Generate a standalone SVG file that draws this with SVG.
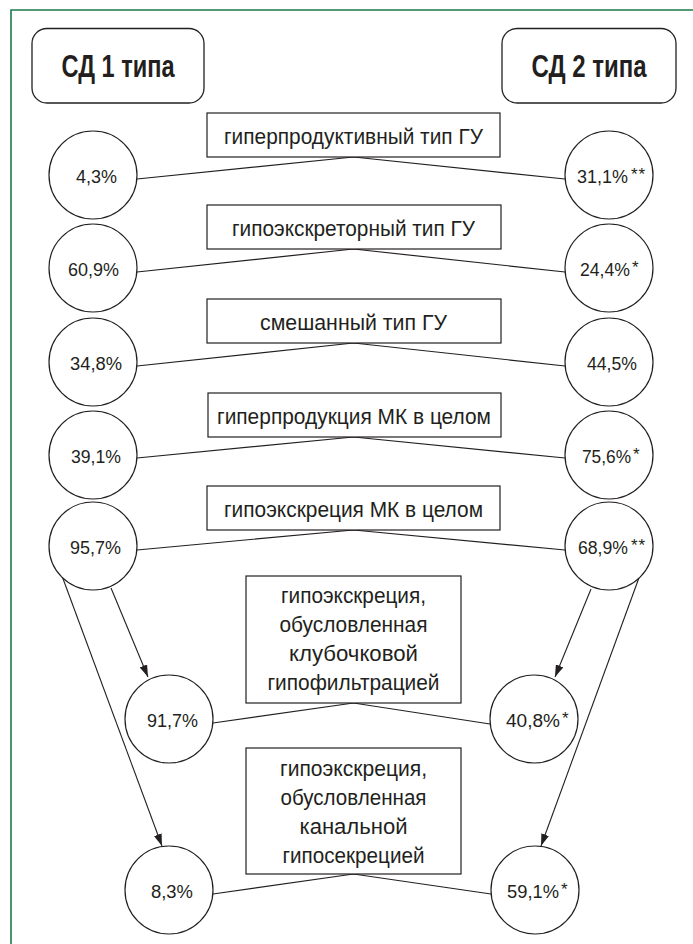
<svg xmlns="http://www.w3.org/2000/svg" width="693" height="944" viewBox="0 0 693 944">
<defs>
<style>
.bg{fill:#ffffff}
.frame{fill:none;stroke:#1d7a4a;stroke-width:1.6}
.hdr{fill:#ffffff;stroke:#231f20;stroke-width:1.3}
.box{fill:#ffffff;stroke:#231f20;stroke-width:1.2}
.circ{fill:#ffffff;stroke:#231f20;stroke-width:1.2}
.ln{fill:none;stroke:#231f20;stroke-width:1.2}
.arr{fill:none;stroke:#231f20;stroke-width:1.1;marker-end:url(#ah)}
.ht{font-family:"Liberation Sans Narrow","Liberation Sans",Arial,sans-serif;font-weight:bold;font-size:31px;fill:#231f20;text-anchor:middle}
.bt{font-family:"Liberation Sans Narrow","Liberation Sans",Arial,sans-serif;font-size:22px;fill:#231f20;text-anchor:middle}
.pt{font-family:"Liberation Sans Narrow","Liberation Sans",Arial,sans-serif;font-size:18px;fill:#231f20}
.st{font-family:"Liberation Sans",Arial,sans-serif;font-size:17px;fill:#231f20}
</style>
<marker id="ah" viewBox="0 0 12 8" refX="12" refY="4" markerWidth="12" markerHeight="8" markerUnits="userSpaceOnUse" orient="auto">
<path d="M0,0 L12,4 L0,8 Z" fill="#231f20"/>
</marker>
</defs>
<rect class="bg" x="0" y="0" width="693" height="944"/>
<path class="frame" d="M11,950 L11,10 L700,10"/>

<g id="connectors">
<polyline class="ln" points="137,179 353.5,157 565,179"/>
<polyline class="ln" points="137,272 353.5,249 565,272"/>
<polyline class="ln" points="137,366 353.5,343 565,366"/>
<polyline class="ln" points="137,458 353.5,437 565,458"/>
<polyline class="ln" points="137,550 353.5,530 565,550"/>
<polyline class="ln" points="213,723 353.5,703 490,724"/>
<polyline class="ln" points="213,894 353.5,874 491,894"/>
<line class="arr" x1="111" y1="588" x2="148" y2="677"/>
<line class="arr" x1="62" y1="576" x2="162" y2="846"/>
<line class="arr" x1="591" y1="589" x2="555" y2="677"/>
<line class="arr" x1="640" y1="575" x2="541" y2="846"/>
</g>

<g id="header-sd1">
<rect class="hdr" x="32" y="28.5" width="172" height="74.5" rx="15" ry="15"/>
<text class="ht" x="118" y="77" textLength="113" lengthAdjust="spacingAndGlyphs">СД 1 типа</text>
</g>
<g id="header-sd2">
<rect class="hdr" x="502" y="28.5" width="174" height="74.5" rx="15" ry="15"/>
<text class="ht" x="589" y="77" textLength="115" lengthAdjust="spacingAndGlyphs">СД 2 типа</text>
</g>

<g id="box-1">
<rect class="box" x="207" y="113" width="293" height="44"/>
<text class="bt" x="353.5" y="143.5" textLength="259" lengthAdjust="spacingAndGlyphs">гиперпродуктивный тип ГУ</text>
</g>
<g id="box-2">
<rect class="box" x="207" y="205" width="294" height="44"/>
<text class="bt" x="353.5" y="235.5" textLength="243" lengthAdjust="spacingAndGlyphs">гипоэкскреторный тип ГУ</text>
</g>
<g id="box-3">
<rect class="box" x="207" y="299" width="294" height="44"/>
<text class="bt" x="353.5" y="329.5" textLength="187" lengthAdjust="spacingAndGlyphs">смешанный тип ГУ</text>
</g>
<g id="box-4">
<rect class="box" x="208" y="393" width="293" height="44"/>
<text class="bt" x="354" y="423.5" textLength="274" lengthAdjust="spacingAndGlyphs">гиперпродукция МК в целом</text>
</g>
<g id="box-5">
<rect class="box" x="207" y="486" width="293" height="44"/>
<text class="bt" x="353.5" y="516.5" textLength="259" lengthAdjust="spacingAndGlyphs">гипоэкскреция МК в целом</text>
</g>
<g id="box-6">
<rect class="box" x="246" y="576" width="215" height="127"/>
<text class="bt" x="353.5" y="603" textLength="145" lengthAdjust="spacingAndGlyphs">гипоэкскреция,</text>
<text class="bt" x="353.5" y="632" textLength="148" lengthAdjust="spacingAndGlyphs">обусловленная</text>
<text class="bt" x="353.5" y="661" textLength="129" lengthAdjust="spacingAndGlyphs">клубочковой</text>
<text class="bt" x="353.5" y="690" textLength="172" lengthAdjust="spacingAndGlyphs">гипофильтрацией</text>
</g>
<g id="box-7">
<rect class="box" x="246" y="748" width="215" height="126"/>
<text class="bt" x="353.5" y="776" textLength="147" lengthAdjust="spacingAndGlyphs">гипоэкскреция,</text>
<text class="bt" x="353.5" y="805" textLength="146" lengthAdjust="spacingAndGlyphs">обусловленная</text>
<text class="bt" x="353.5" y="834" textLength="108" lengthAdjust="spacingAndGlyphs">канальной</text>
<text class="bt" x="353.5" y="863" textLength="142" lengthAdjust="spacingAndGlyphs">гипосекрецией</text>
</g>

<g id="c1-left">
<circle class="circ" cx="93" cy="175" r="44"/>
<text class="pt" x="76" y="183" textLength="41" lengthAdjust="spacingAndGlyphs">4,3%</text>
</g>
<g id="c1-right">
<circle class="circ" cx="609" cy="175" r="44"/>
<text class="pt" x="577" y="183" textLength="51" lengthAdjust="spacingAndGlyphs">31,1%</text>
<text class="st" x="631" y="179.5" letter-spacing="1">**</text>
</g>
<g id="c2-left">
<circle class="circ" cx="93" cy="268" r="44"/>
<text class="pt" x="68" y="276" textLength="51" lengthAdjust="spacingAndGlyphs">60,9%</text>
</g>
<g id="c2-right">
<circle class="circ" cx="609" cy="268" r="44"/>
<text class="pt" x="580" y="276" textLength="50" lengthAdjust="spacingAndGlyphs">24,4%</text>
<text class="st" x="632" y="272.5">*</text>
</g>
<g id="c3-left">
<circle class="circ" cx="93" cy="362" r="44"/>
<text class="pt" x="70" y="370" textLength="52" lengthAdjust="spacingAndGlyphs">34,8%</text>
</g>
<g id="c3-right">
<circle class="circ" cx="609" cy="362" r="44"/>
<text class="pt" x="587" y="370" textLength="50" lengthAdjust="spacingAndGlyphs">44,5%</text>
</g>
<g id="c4-left">
<circle class="circ" cx="93" cy="455" r="44"/>
<text class="pt" x="71" y="463" textLength="50" lengthAdjust="spacingAndGlyphs">39,1%</text>
</g>
<g id="c4-right">
<circle class="circ" cx="609" cy="455" r="44"/>
<text class="pt" x="582" y="463" textLength="49" lengthAdjust="spacingAndGlyphs">75,6%</text>
<text class="st" x="633" y="459.5">*</text>
</g>
<g id="c5-left">
<circle class="circ" cx="93" cy="546" r="44"/>
<text class="pt" x="70" y="554" textLength="51" lengthAdjust="spacingAndGlyphs">95,7%</text>
</g>
<g id="c5-right">
<circle class="circ" cx="609" cy="546" r="44"/>
<text class="pt" x="578" y="554" textLength="50" lengthAdjust="spacingAndGlyphs">68,9%</text>
<text class="st" x="631" y="550.5" letter-spacing="1">**</text>
</g>
<g id="c6-left">
<circle class="circ" cx="169" cy="719" r="44"/>
<text class="pt" x="147" y="727" textLength="51" lengthAdjust="spacingAndGlyphs">91,7%</text>
</g>
<g id="c6-right">
<circle class="circ" cx="534" cy="719" r="44"/>
<text class="pt" x="506" y="727" textLength="54" lengthAdjust="spacingAndGlyphs">40,8%</text>
<text class="st" x="562" y="723.5">*</text>
</g>
<g id="c7-left">
<circle class="circ" cx="169" cy="890" r="44"/>
<text class="pt" x="151" y="898" textLength="42" lengthAdjust="spacingAndGlyphs">8,3%</text>
</g>
<g id="c7-right">
<circle class="circ" cx="535" cy="890" r="44"/>
<text class="pt" x="507" y="898" textLength="52" lengthAdjust="spacingAndGlyphs">59,1%</text>
<text class="st" x="561" y="894.5">*</text>
</g>
</svg>
